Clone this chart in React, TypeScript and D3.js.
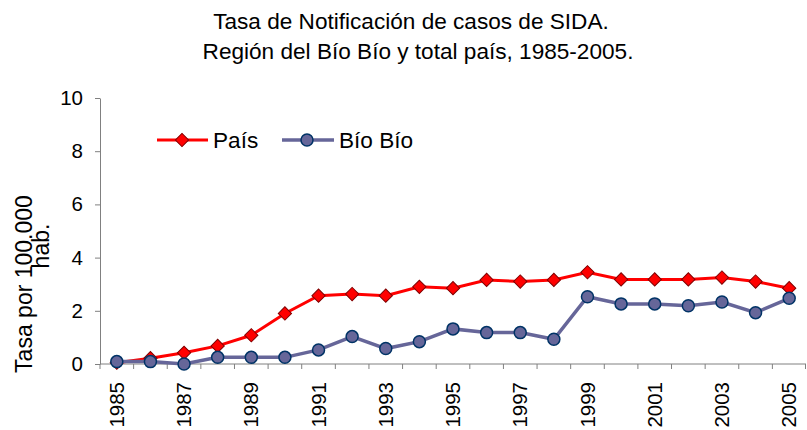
import { useEffect, useRef } from "react";
import * as d3 from "d3";

const years = [
  1985, 1986, 1987, 1988, 1989, 1990, 1991, 1992, 1993, 1994, 1995, 1996, 1997,
  1998, 1999, 2000, 2001, 2002, 2003, 2004, 2005,
];
const paisValues = [
  0.05, 0.22, 0.42, 0.68, 1.08, 1.9, 2.57, 2.63, 2.57, 2.9, 2.85, 3.16, 3.1,
  3.16, 3.45, 3.18, 3.18, 3.18, 3.25, 3.1, 2.85,
];
const bioBioValues = [
  0.09, 0.09, 0.0, 0.25, 0.25, 0.25, 0.53, 1.03, 0.58, 0.84, 1.32, 1.18, 1.18,
  0.93, 2.53, 2.26, 2.26, 2.19, 2.33, 1.93, 2.47,
];
const yTicks = [0, 2, 4, 6, 8, 10];
const labelYears = years.filter((_, i) => i % 2 === 0);

const FONT = "'Liberation Sans', Arial, sans-serif";

export default function App() {
  const svgRef = useRef<SVGSVGElement | null>(null);

  useEffect(() => {
    if (!svgRef.current) return;
    const svg = d3.select(svgRef.current);
    svg.selectAll("*").remove();

    const left = 100;
    const right = 806;
    const top = 98;
    const bottom = 364;

    const x = d3
      .scaleBand<number>()
      .domain(years)
      .range([left, right])
      .padding(0);
    const y = d3.scaleLinear().domain([0, 10]).range([bottom, top]);
    const cx = (yr: number) => (x(yr) ?? 0) + x.bandwidth() / 2;

    // title
    const title = svg
      .append("g")
      .attr("font-family", FONT)
      .attr("font-size", 22.6)
      .attr("fill", "#000")
      .attr("text-anchor", "middle");
    title.append("text").attr("x", 411).attr("y", 29).text("Tasa de Notificación de casos de SIDA.");
    title.append("text").attr("x", 418).attr("y", 59).text("Región del Bío Bío y total país, 1985-2005.");

    // y axis label
    svg
      .append("text")
      .attr("transform", "translate(32,284) rotate(-90)")
      .attr("text-anchor", "middle")
      .attr("font-family", FONT)
      .attr("font-size", 23)
      .text("Tasa por 100.000");
    svg
      .append("text")
      .attr("transform", "translate(49,246) rotate(-90)")
      .attr("text-anchor", "middle")
      .attr("font-family", FONT)
      .attr("font-size", 23)
      .text("hab.");

    // y axis
    svg
      .append("g")
      .attr("transform", `translate(${left},0)`)
      .call(d3.axisLeft(y).tickValues(yTicks).tickSize(5).tickSizeOuter(0).tickPadding(12))
      .call((g) => g.selectAll("line,path").attr("stroke", "#808080"))
      .call((g) =>
        g.selectAll("text").attr("fill", "#000").attr("font-size", 20.5).attr("font-family", FONT),
      );

    // x axis
    const xa = svg.append("g");
    xa.append("line")
      .attr("x1", left)
      .attr("x2", right)
      .attr("y1", bottom)
      .attr("y2", bottom)
      .attr("stroke", "#808080");
    const bounds = years.map((yr) => x(yr) ?? 0).concat([right - 0.5]);
    xa.selectAll("line.tick")
      .data(bounds)
      .join("line")
      .attr("class", "tick")
      .attr("x1", (d) => d)
      .attr("x2", (d) => d)
      .attr("y1", bottom)
      .attr("y2", bottom + 5)
      .attr("stroke", "#808080");
    xa.selectAll("text")
      .data(labelYears)
      .join("text")
      .attr("transform", (d) => `translate(${cx(d)},382) rotate(-90)`)
      .attr("text-anchor", "end")
      .attr("dy", "0.35em")
      .attr("font-family", FONT)
      .attr("font-size", 20.5)
      .attr("fill", "#000")
      .text((d) => String(d));

    const line = d3
      .line<number>()
      .x((_, i) => cx(years[i]))
      .y((d) => y(d));

    // País
    svg
      .append("path")
      .attr("d", line(paisValues))
      .attr("fill", "none")
      .attr("stroke", "#ff0000")
      .attr("stroke-width", 3);
    const diamond = d3.symbol().type(d3.symbolSquare).size(88);
    svg
      .append("g")
      .selectAll("path")
      .data(paisValues)
      .join("path")
      .attr("d", diamond)
      .attr("transform", (d, i) => `translate(${cx(years[i])},${y(d)}) rotate(45)`)
      .attr("fill", "#ff0000")
      .attr("stroke", "#800000")
      .attr("stroke-width", 1);

    // Bío Bío
    svg
      .append("path")
      .attr("d", line(bioBioValues))
      .attr("fill", "none")
      .attr("stroke", "#666699")
      .attr("stroke-width", 3.5);
    svg
      .append("g")
      .selectAll("circle")
      .data(bioBioValues)
      .join("circle")
      .attr("cx", (_, i) => cx(years[i]))
      .attr("cy", (d) => y(d))
      .attr("r", 6)
      .attr("fill", "#666699")
      .attr("stroke", "#003366")
      .attr("stroke-width", 1.5);

    // legend
    const lg = svg.append("g").attr("font-family", FONT).attr("font-size", 22.6);
    lg.append("line")
      .attr("x1", 157)
      .attr("x2", 208)
      .attr("y1", 140)
      .attr("y2", 140)
      .attr("stroke", "#ff0000")
      .attr("stroke-width", 3);
    lg.append("path")
      .attr("d", diamond)
      .attr("transform", "translate(182,140) rotate(45)")
      .attr("fill", "#ff0000")
      .attr("stroke", "#800000");
    lg.append("text").attr("x", 213).attr("y", 148).text("País");
    lg.append("line")
      .attr("x1", 282)
      .attr("x2", 334)
      .attr("y1", 140)
      .attr("y2", 140)
      .attr("stroke", "#666699")
      .attr("stroke-width", 3.5);
    lg.append("circle")
      .attr("cx", 307)
      .attr("cy", 140)
      .attr("r", 6)
      .attr("fill", "#666699")
      .attr("stroke", "#003366")
      .attr("stroke-width", 1.5);
    lg.append("text").attr("x", 339).attr("y", 148).text("Bío Bío");
  }, []);

  return (
    <svg
      ref={svgRef}
      width={807}
      height={430}
      style={{ position: "absolute", left: 0, top: 0, background: "#fff" }}
    />
  );
}
